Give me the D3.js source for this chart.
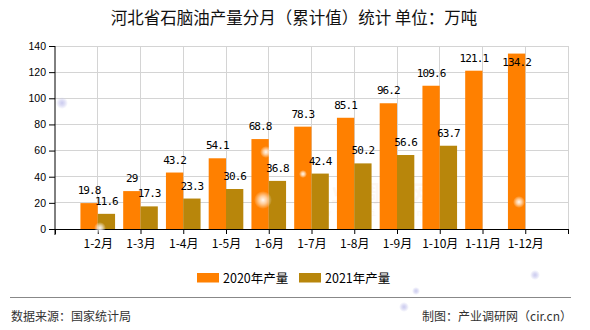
<!DOCTYPE html>
<html>
<head>
<meta charset="utf-8">
<script src="https://cdn.jsdelivr.net/npm/d3@7/dist/d3.min.js"></script>
<style>
  html, body { margin: 0; padding: 0; background: #fff; }
  svg { display: block; }
</style>
</head>
<body>
<svg id="chart" width="590" height="330"></svg>
<script>
const title = "河北省石脑油产量分月（累计值）统计 单位：万吨";
const categories = ["1-2月","1-3月","1-4月","1-5月","1-6月","1-7月","1-8月","1-9月","1-10月","1-11月","1-12月"];
const seriesNames = ["2020年产量","2021年产量"];
const values2020 = [19.8, 29, 43.2, 54.1, 68.8, 78.3, 85.1, 96.2, 109.6, 121.1, 134.2];
const values2021 = [11.6, 17.3, 23.3, 30.6, 36.8, 42.4, 50.2, 56.6, 63.7];
const yTicks = [0, 20, 40, 60, 80, 100, 120, 140];
const sourceText = "数据来源：国家统计局";
const creditText = "制图：产业调研网（cir.cn）";

const colors = ["#FF8000", "#B8860B"];
const svg = d3.select("#chart");
const cjk = "'Noto Sans CJK SC', 'Liberation Sans', sans-serif";

const pLeft = 55, pRight = 568, pTop = 46, pBottom = 229;
const x = d3.scaleLinear().domain([0, categories.length + 1]).range([pLeft, pRight]);
const y = d3.scaleLinear().domain([0, 140]).range([pBottom, pTop]);
const bw = (x(1) - x(0)) * 0.405;

// Decorative glow spots
const defs = svg.append("defs");
const glows = [
  {id:"gw", c:"#ffffff"}, {id:"gb", c:"#c8c8ee"}
];
glows.forEach(g => {
  const rg = defs.append("radialGradient").attr("id", g.id);
  rg.append("stop").attr("offset", "0%").attr("stop-color", g.c).attr("stop-opacity", 0.95);
  rg.append("stop").attr("offset", "45%").attr("stop-color", g.c).attr("stop-opacity", 0.6);
  rg.append("stop").attr("offset", "100%").attr("stop-color", g.c).attr("stop-opacity", 0);
});

// Title
svg.append("text")
  .attr("x", 294).attr("y", 24)
  .attr("text-anchor", "middle")
  .style("font-family", cjk).style("font-size", "16.5px").style("font-weight", "normal")
  .attr("fill", "#111")
  .text(title);

// Grid
const grid = svg.append("g").attr("stroke", "#d4d4d4").attr("stroke-width", 1).attr("shape-rendering", "crispEdges");
yTicks.filter(v => v > 0).forEach(v => {
  grid.append("line").attr("x1", pLeft).attr("x2", pRight).attr("y1", y(v)).attr("y2", y(v));
});
d3.range(1, categories.length + 2).forEach(i => {
  grid.append("line").attr("x1", x(i)).attr("x2", x(i)).attr("y1", pTop).attr("y2", pBottom);
});

// Watermark
svg.append("text").attr("x", 371).attr("y", 201).attr("text-anchor", "middle")
  .style("font-family", cjk).style("font-size", "22px").style("font-weight", "bold")
  .attr("letter-spacing", "4.5px")
  .attr("fill", "#e8a070").attr("opacity", 0.08).text("产业调研网");
svg.append("text").attr("x", 371).attr("y", 216).attr("text-anchor", "middle")
  .style("font-family", "'DejaVu Sans Mono', monospace").style("font-size", "9px")
  .attr("fill", "#e8a070").attr("opacity", 0.08).attr("letter-spacing", "6px").text("www.cir.cn");

// Bars
const bars = svg.append("g");
bars.selectAll("rect.s0").data(values2020).join("rect").attr("class", "s0")
  .attr("x", (d, i) => x(i + 1) - bw).attr("width", bw)
  .attr("y", d => y(d)).attr("height", d => y(0) - y(d))
  .attr("fill", colors[0]);
bars.selectAll("rect.s1").data(values2021).join("rect").attr("class", "s1")
  .attr("x", (d, i) => x(i + 1)).attr("width", bw)
  .attr("y", d => y(d)).attr("height", d => y(0) - y(d))
  .attr("fill", colors[1]);

// Value labels
function labelY(v) {
  const t = y(v);
  return (t - 9 - 8 < pTop) ? t + 12.5 : t - 9;
}
const lab = svg.append("g")
  .style("font-family", "'DejaVu Sans Mono', monospace").style("font-size", "11px")
  .attr("letter-spacing", "-0.9px").attr("fill", "#000").attr("text-anchor", "middle");
values2020.forEach((v, i) => {
  lab.append("text").attr("x", x(i + 1) - bw / 2).attr("y", labelY(v)).text(v);
});
values2021.forEach((v, i) => {
  lab.append("text").attr("x", x(i + 1) + bw / 2).attr("y", labelY(v)).text(v);
});

// Y axis
const yAxis = svg.append("g").attr("transform", `translate(${pLeft},0)`)
  .call(d3.axisLeft(y).tickValues(yTicks).tickSize(6).tickPadding(3).tickFormat(d3.format("d")));
yAxis.select(".domain").remove();
yAxis.append("line").attr("x1", 0).attr("x2", 0).attr("y1", pTop).attr("y2", pBottom + 6).attr("stroke", "#000");
yAxis.selectAll("text").style("font-family", "'Liberation Sans', Arial, sans-serif").style("font-size", "10.5px").attr("fill", "#000");
yAxis.selectAll(".tick line").attr("stroke", "#000");

// X axis
const xAxis = svg.append("g").attr("transform", `translate(0,${pBottom})`)
  .call(d3.axisBottom(x).tickValues(d3.range(0, categories.length + 2)).tickSize(5).tickPadding(5)
    .tickFormat(i => categories[i - 1] || ""));
xAxis.select(".domain").attr("d", `M${pLeft},0.5H${pRight}`).attr("stroke", "#000");
xAxis.selectAll(".tick line").attr("stroke", "#000");
xAxis.selectAll("text").style("font-family", cjk).style("font-size", "12px").attr("fill", "#000");

// Legend
const legend = svg.append("g");
const legendX = [197, 299];
seriesNames.forEach((n, i) => {
  legend.append("rect").attr("x", legendX[i]).attr("y", 273).attr("width", 22).attr("height", 9.5).attr("fill", colors[i]);
  legend.append("text").attr("x", legendX[i] + 26).attr("y", 283)
    .style("font-family", cjk).style("font-size", "12.5px").attr("fill", "#000").text(n);
});

// Separator
svg.append("line").attr("x1", 10).attr("x2", 571).attr("y1", 297.5).attr("y2", 297.5)
  .attr("stroke", "#888").attr("stroke-width", 1);

// Footer
svg.append("text").attr("x", 11).attr("y", 321)
  .style("font-family", cjk).style("font-size", "12px").attr("fill", "#333").text(sourceText);
svg.append("text").attr("x", 572).attr("y", 321).attr("text-anchor", "end")
  .style("font-family", cjk).style("font-size", "12px").attr("fill", "#333").text(creditText);

// Glow spots (decorative)
const spots = [
  {cx: 62, cy: 103, r: 6, g: "gb"},
  {cx: 100, cy: 228, r: 6, g: "gw"},
  {cx: 263, cy: 200, r: 9, g: "gw"},
  {cx: 266, cy: 152, r: 6, g: "gw"},
  {cx: 303, cy: 174, r: 4, g: "gw"},
  {cx: 519, cy: 202, r: 6, g: "gw"},
  {cx: 416, cy: 291, r: 4, g: "gb"},
  {cx: 404, cy: 307, r: 5, g: "gb"},
  {cx: 535, cy: 275, r: 5, g: "gb"}
];
svg.append("g").selectAll("circle").data(spots).join("circle")
  .attr("cx", d => d.cx).attr("cy", d => d.cy).attr("r", d => d.r)
  .attr("fill", d => `url(#${d.g})`);
</script>
</body>
</html>
